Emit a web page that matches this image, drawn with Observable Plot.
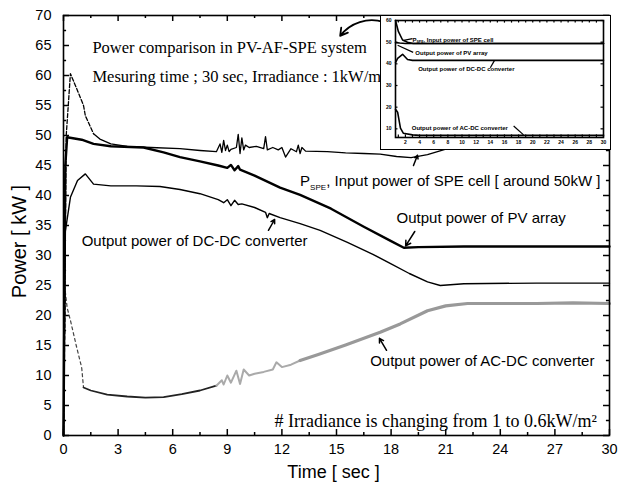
<!DOCTYPE html>
<html><head><meta charset="utf-8">
<script src="https://cdn.jsdelivr.net/npm/d3@7"></script>
<script src="https://cdn.jsdelivr.net/npm/@observablehq/plot@0.6"></script>
<style>
html,body{margin:0;padding:0;background:#fff;}
#wrap{position:relative;width:619px;height:488px;overflow:hidden;}
#inset{position:absolute;left:380px;top:15px;width:229px;height:133px;border:1px solid #000;background:#fff;}
svg{display:block;}
</style></head><body><div id="wrap"><div id="main"></div><div id="inset"></div></div>
<script>
// ---- axis ticks ----
const xTicks = [0,3,6,9,12,15,18,21,24,27,30];
const xMinor = [1.5,4.5,7.5,10.5,13.5,16.5,19.5,22.5,25.5,28.5];
const yTicks = [0,5,10,15,20,25,30,35,40,45,50,55,60,65,70];
const yMinor = [2.5,7.5,12.5,17.5,22.5,27.5,32.5,37.5,42.5,47.5,52.5,57.5,62.5,67.5];

// ---- P_SPE, input power of SPE cell ----
const speT = [0,0.15,0.38,0.7,1.1,1.2,1.65,2.0,2.6,3.5,4.8,6.4,7.5,8.4,8.6,8.7,8.8,8.9,9.0,9.1,9.2,9.5,9.6,9.7,9.8,9.9,10.0,10.2,10.6,11.0,11.1,11.2,11.5,11.8,12.0,12.2,12.5,12.8,12.9,13.0,13.1,13.3,14.5,15.5,16.5,17.4,18.3,19.1,20.0,21.1,22,26,30];
const speP = [0,50,60.3,58,55,53.3,50.3,49.4,48.6,48.2,48,47.8,47.5,47.3,48.6,47.2,49.2,47.5,48.4,47.3,47.7,48,50.2,47,49.6,47.6,48.4,48,48.2,47.8,49.8,47.6,48,47.6,48,46.4,47.8,47.3,48.4,47,48,47.4,47.3,47.1,47,46.9,46.5,46.3,46.8,47.8,48,48,48];
// ---- output power of PV array ----
const pvT = [0,0.1,0.2,1.0,1.65,2.6,4.4,5.5,6.4,7.5,8.5,9.0,9.2,9.4,9.6,9.7,10.5,11.9,13.0,14.7,16.5,18.0,18.7,19.5,22,26,30];
const pvP = [0,45,49.7,49.3,48.6,48.2,48,47.2,46.4,45.7,45,44.6,45.1,44.2,44.9,44.3,43.3,41.3,40.1,37.8,34.8,32.4,31.3,31.4,31.5,31.5,31.5];
// ---- output power of DC-DC converter ----
const dcT = [0,0.1,0.38,0.77,1.2,1.65,2.6,4,5.3,6.4,7.5,8.5,8.8,9.0,9.2,9.4,9.6,9.8,10.5,11.1,11.2,11.3,11.9,13,14.1,15.6,17,18,19,20,20.7,22,26,30];
const dcP = [0,34,39.7,42.5,43.6,41.9,41.6,41.6,41.5,41,40.3,39.3,38.8,39.3,38.3,39.2,38.5,38.6,38,37.2,36.3,37,36.3,35.3,34.2,32.2,30.2,28.6,27,25.6,25,25.3,25.4,25.4];
// ---- output power of AC-DC converter ----
const acT = [0,0.1,0.2,0.38,0.7,1.0,1.1,1.5,2.4,3.5,4.5,5.5,6.5,7.5,8.4,8.7,8.8,9.0,9.2,9.5,9.7,9.9,10.2,10.5,11,11.5,11.7,12.0,12.5,13.0,14.0,15.5,17.4,18.5,20,21,22.2,24,26,28,30];
const acP = [0,24,21.3,19.2,15,11.3,8,7.5,6.8,6.5,6.3,6.4,6.9,7.5,8.3,9.2,8.5,10,8.8,10.8,8.6,11,10,10.3,10.6,11,12.2,11.4,11.8,12.5,13.5,15.1,17.2,18.6,20.8,21.6,22,22,22,22.1,22];

// ---- inset (constant irradiance) ----
const insXTicks = [2,4,6,8,10,12,14,16,18,20,22,24,26,28,30];
const insXMinor = [1,3,5,7,9,11,13,15,17,19,21,23,25,27,29];
const insYTicks = [10,20,30,40,50,60];
const insSpeT = [0.6,1.0,1.6,2.3,3.1,30], insSpeP = [60,55,51,50,49.4,49.4];
const insPvT = [0.6,1.2,2.0,30], insPvP = [49.8,49.6,49.4,49.4];
const insDcT = [0.6,0.9,1.6,2.3,3.0,30], insDcP = [40.5,42.5,44.4,42,41.6,41.6];
const insAcT = [0.6,0.9,1.3,1.7,3.0,4.0,30], insAcP = [19,17.7,10.3,8,7.2,7,7];

// ---- annotation texts ----
const titleLines = ["Power comparison in PV-AF-SPE system", "Mesuring time ; 30 sec, Irradiance : 1kW/m\u00b2"];
const speLabel = "P_SPE, Input power of SPE cell [ around 50kW ]";
const pvLabel = "Output power of PV array";
const dcLabel = "Output power of DC-DC converter";
const acLabel = "Output power of AC-DC converter";
const noteLabel = "# Irradiance is changing from 1 to 0.6kW/m\u00b2";
const insLabels = ["P_SPE, Input power of SPE cell", "Output power of PV array", "Output power of DC-DC converter", "Output power of AC-DC converter"];

const rows = (t, p) => t.map((d, i) => ({t: d, p: p[i]}));
const spe = rows(speT, speP), pv = rows(pvT, pvP), dc = rows(dcT, dcP), ac = rows(acT, acP);

// annotation placement (data coordinates)
const titlePos = [{x: 1.59, y: 63.7, s: titleLines[0]}, {x: 1.59, y: 59.0, s: titleLines[1]}];
const sansPos = [
  {x: 13.0, y: 41.6, s: speLabel},
  {x: 18.3, y: 35.5, s: pvLabel},
  {x: 1.0, y: 31.6, s: dcLabel},
  {x: 16.85, y: 11.6, s: acLabel}
];
const arrows = [
  {x1: 19.23, y1: 45.0, x2: 19.45, y2: 46.7},
  {x1: 19.3, y1: 34.0, x2: 18.8, y2: 31.6},
  {x1: 11.26, y1: 34.2, x2: 11.6, y2: 36.0},
  {x1: 17.75, y1: 14.2, x2: 17.36, y2: 16.2}
];
const curved = [{x1: 17.6, y1: 68.9, x2: 15.2, y2: 66.6}];

const serif = "'Liberation Serif','Times New Roman',serif";
const sans = "'Liberation Sans',Arial,sans-serif";

const main = Plot.plot({
  width: 619, height: 488,
  marginLeft: 63, marginRight: 10, marginTop: 15, marginBottom: 53,
  style: {fontFamily: sans, fontSize: "14.5px", background: "#fff", color: "#000", overflow: "visible"},
  x: {domain: [0, 30], ticks: xTicks, tickSize: 0, tickPadding: 8, label: null},
  y: {domain: [0, 70], ticks: yTicks, tickSize: 0, tickPadding: 12, label: null},
  marks: [
    // ticks (inward)
    Plot.ruleX(xTicks, {x: d => d, y1: 0, y2: 1.0, stroke: "#000", strokeWidth: 1.5}),
    Plot.ruleX(xMinor, {x: d => d, y1: 0, y2: 0.5, stroke: "#000", strokeWidth: 1.5}),
    Plot.ruleX(xTicks, {x: d => d, y1: 70, y2: 69.0, stroke: "#000", strokeWidth: 1.5}),
    Plot.ruleX(xMinor, {x: d => d, y1: 70, y2: 69.5, stroke: "#000", strokeWidth: 1.5}),
    Plot.ruleY(yTicks, {y: d => d, x1: 0, x2: 0.33, stroke: "#000", strokeWidth: 1.5}),
    Plot.ruleY(yMinor, {y: d => d, x1: 0, x2: 0.17, stroke: "#000", strokeWidth: 1.5}),
    Plot.ruleY(yTicks, {y: d => d, x1: 30, x2: 29.67, stroke: "#000", strokeWidth: 1.5}),
    Plot.ruleY(yMinor, {y: d => d, x1: 30, x2: 29.83, stroke: "#000", strokeWidth: 1.5}),
    // AC-DC
    Plot.line(ac, {filter: d => d.t <= 1.1, x: "t", y: "p", stroke: "#444", strokeWidth: 1.2, strokeDasharray: "3,3"}),
    Plot.line(ac, {filter: d => d.t >= 1.1 && d.t <= 8.4, x: "t", y: "p", stroke: "#222", strokeWidth: 1.8}),
    Plot.line(ac, {filter: d => d.t >= 8.4 && d.t <= 13, x: "t", y: "p", stroke: "#aaa", strokeWidth: 2}),
    Plot.line(ac, {filter: d => d.t >= 13, x: "t", y: "p", stroke: "#999", strokeWidth: 3.2}),
    // DC-DC
    Plot.line(dc, {x: "t", y: "p", stroke: "#000", strokeWidth: 1.4}),
    // PV
    Plot.line(pv, {x: "t", y: "p", stroke: "#000", strokeWidth: 2.4}),
    // SPE
    Plot.line(spe, {filter: d => d.t <= 1.65, x: "t", y: "p", stroke: "#000", strokeWidth: 1.3, strokeDasharray: "4,2"}),
    Plot.line(spe, {filter: d => d.t >= 1.65, x: "t", y: "p", stroke: "#000", strokeWidth: 1.3}),
    Plot.frame({stroke: "#000", strokeWidth: 1.6}),
    // annotations
    Plot.text(titlePos, {x: "x", y: "y", text: "s", textAnchor: "start", lineAnchor: "bottom", fontFamily: serif, fontSize: 16.5, fill: "#000"}),
    Plot.text(sansPos, {x: "x", y: "y", text: "s", textAnchor: "start", lineAnchor: "bottom", fontSize: 15, fill: "#000"}),
    Plot.text([noteLabel], {x: 11.6, y: 1.5, text: d => d, textAnchor: "start", lineAnchor: "bottom", fontFamily: serif, fontSize: 18, fill: "#000"}),
    Plot.arrow(arrows, {x1: "x1", y1: "y1", x2: "x2", y2: "y2", stroke: "#000", strokeWidth: 1.5, headLength: 6}),
    Plot.arrow(curved, {x1: "x1", y1: "y1", x2: "x2", y2: "y2", bend: -35, stroke: "#000", strokeWidth: 1.8, headLength: 7}),
    // axis titles
    Plot.text(["Power [ kW ]"], {frameAnchor: "left", text: d => d, rotate: -90, textAnchor: "middle", dx: -38, dy: 16, lineAnchor: "bottom", fontSize: 20, fill: "#000"}),
    Plot.text(["Time [ sec ]"], {frameAnchor: "bottom", text: d => d, textAnchor: "middle", dx: -3, dy: 42, lineAnchor: "bottom", fontSize: 18, fill: "#000"})
  ]
});
document.getElementById("main").appendChild(main);

const ins = Plot.plot({
  width: 229, height: 133,
  marginLeft: 14, marginRight: 7, marginTop: 4, marginBottom: 12,
  style: {fontFamily: sans, fontSize: "5px", fontWeight: "bold", background: "#fff", color: "#000", overflow: "visible"},
  x: {domain: [0.6, 30], ticks: insXTicks, tickSize: 0, tickPadding: 3, label: null},
  y: {domain: [6, 60], ticks: insYTicks, tickSize: 0, tickPadding: 4, label: null},
  marks: [
    Plot.ruleX(insXTicks.concat(insXMinor), {x: d => d, y1: 60, y2: 58.8, stroke: "#000", strokeWidth: 1.2}),
    Plot.ruleX(insXTicks.concat(insXMinor), {x: d => d, y1: 6, y2: 7.2, stroke: "#000", strokeWidth: 1.2}),
    Plot.ruleY(insYTicks, {y: d => d, x1: 0.6, x2: 0.95, stroke: "#000", strokeWidth: 1.2}),
    Plot.ruleY(insYTicks, {y: d => d, x1: 30, x2: 29.65, stroke: "#000", strokeWidth: 1.2}),
    Plot.line(rows(insAcT, insAcP), {x: "t", y: "p", stroke: "#000", strokeWidth: 1.6}),
    Plot.line(rows(insDcT, insDcP), {x: "t", y: "p", stroke: "#000", strokeWidth: 1.6}),
    Plot.line(rows(insPvT, insPvP), {x: "t", y: "p", stroke: "#000", strokeWidth: 1.6}),
    Plot.line(rows(insSpeT, insSpeP), {x: "t", y: "p", stroke: "#000", strokeWidth: 1.6}),
    Plot.link([
      {x1: 1.76, y1: 50.8, x2: 3.0, y2: 51.6},
      {x1: 0.9, y1: 48.6, x2: 3.1, y2: 45.3},
      {x1: 14.0, y1: 38.2, x2: 14.6, y2: 41.6},
      {x1: 17.3, y1: 11.3, x2: 18.7, y2: 7.2}
    ], {x1: "x1", y1: "y1", x2: "x2", y2: "y2", stroke: "#000", strokeWidth: 1.2}),
    Plot.text([
      {x: 3.0, y: 50.3, s: insLabels[0]},
      {x: 3.4, y: 44.0, s: insLabels[1]},
      {x: 3.8, y: 36.8, s: insLabels[2]},
      {x: 2.9, y: 9.6, s: insLabels[3]}
    ], {x: "x", y: "y", text: "s", textAnchor: "start", lineAnchor: "bottom", fontSize: 6, fontWeight: "bold", fill: "#000"}),
    Plot.frame({stroke: "#000", strokeWidth: 1.6})
  ]
});
document.getElementById("inset").appendChild(ins);

// subscript SPE in labels
const NS = "http://www.w3.org/2000/svg";
document.querySelectorAll("#wrap svg text").forEach(el => {
  const s = el.textContent;
  if (s.startsWith("P_SPE")) {
    const small = el.closest("#inset") !== null;
    const rest = s.slice(5);
    el.textContent = "";
    const a = document.createElementNS(NS, "tspan"); a.textContent = "P";
    const b = document.createElementNS(NS, "tspan"); b.textContent = "SPE";
    b.setAttribute("font-size", small ? "3.5" : "8"); b.setAttribute("dy", small ? "1.5" : "4");
    const c = document.createElementNS(NS, "tspan"); c.textContent = rest;
    c.setAttribute("dy", small ? "-1.5" : "-4");
    el.appendChild(a); el.appendChild(b); el.appendChild(c);
  }
});
</script>
</body></html>
